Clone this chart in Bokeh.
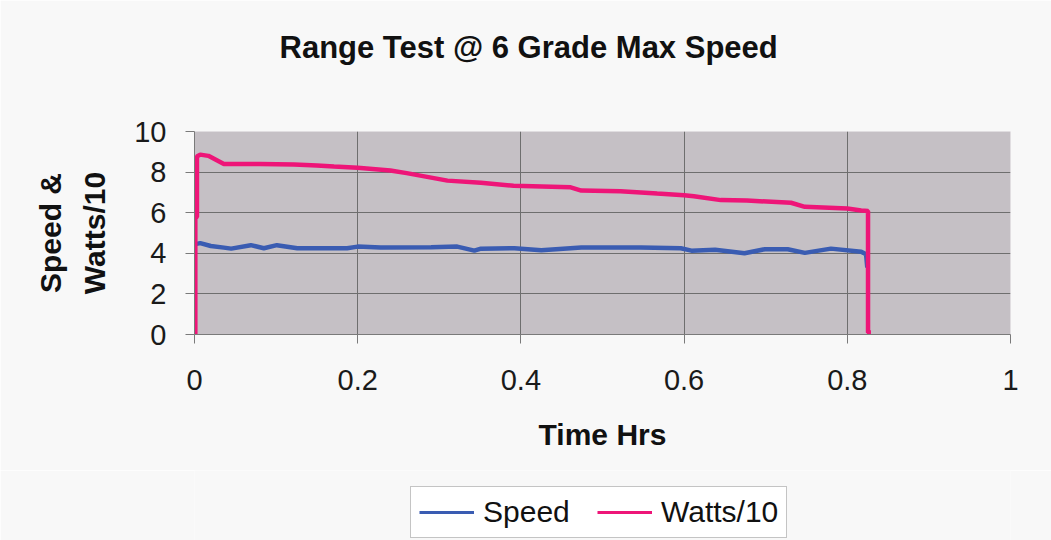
from bokeh.plotting import figure
from bokeh.models import FixedTicker, Legend, LegendItem, Title, Range1d
from bokeh.layouts import column
from bokeh.embed import file_html
from bokeh.resources import INLINE

# ---- data ----
watts_time = [0.001, 0.001, 0.003, 0.003, 0.007, 0.017, 0.036, 0.080, 0.122, 0.150,
              0.171, 0.200, 0.240, 0.260, 0.310, 0.351, 0.391, 0.461, 0.474, 0.522,
              0.567, 0.600, 0.612, 0.645, 0.677, 0.731, 0.748, 0.800, 0.817, 0.8254,
              0.8254, 0.829]
watts_val = [0.0, 5.75, 5.8, 8.77, 8.86, 8.80, 8.40, 8.40, 8.38, 8.33,
             8.28, 8.22, 8.08, 7.95, 7.58, 7.47, 7.33, 7.25, 7.09, 7.06,
             6.94, 6.86, 6.81, 6.62, 6.60, 6.49, 6.29, 6.21, 6.11, 6.08,
             0.1, 0.1]

speed_time = [0.001, 0.007, 0.020, 0.036, 0.045, 0.069, 0.085, 0.101, 0.126, 0.187,
              0.200, 0.228, 0.290, 0.322, 0.343, 0.351, 0.392, 0.425, 0.474, 0.547,
              0.596, 0.609, 0.638, 0.674, 0.699, 0.727, 0.748, 0.780, 0.817, 0.823,
              0.8245]
speed_val = [4.45, 4.50, 4.36, 4.28, 4.23, 4.40, 4.25, 4.40, 4.25, 4.25,
             4.33, 4.28, 4.30, 4.33, 4.13, 4.23, 4.25, 4.15, 4.28, 4.28,
             4.25, 4.13, 4.18, 4.00, 4.20, 4.20, 4.02, 4.23, 4.08, 3.95,
             3.30]

x_ticks = [0, 0.2, 0.4, 0.6, 0.8, 1]
x_tick_labels = ["0", "0.2", "0.4", "0.6", "0.8", "1"]
y_ticks = [0, 2, 4, 6, 8, 10]
y_tick_labels = ["0", "2", "4", "6", "8", "10"]

title_text = "Range Test @ 6 Grade Max Speed"
x_label = "Time Hrs"
y_label = "Speed &\nWatts/10"
series_names = ["Speed", "Watts/10"]

FONT = "Liberation Sans"
BLUE = "#3a5cb2"
PINK = "#ee1578"
BG = "#f8f8f8"

# ---------------- main chart ----------------
p = figure(width=1051, height=470, output_backend="svg", toolbar_location=None,
           x_range=(0, 1), y_range=(0, 10), title_location=None,
           min_border_left=194, min_border_right=41,
           min_border_top=131, min_border_bottom=136)

p.background_fill_color = "#c5c0c5"
p.border_fill_color = BG
p.outline_line_color = None

# title (a blank spacer title sits between the frame and the real title)
top_spacer = Title(text=" ", text_font_size="4px", standoff=60, text_color=BG)
p.add_layout(top_spacer, "above")
main_title = Title(text=title_text, text_font=FONT, text_font_size="31px",
                   text_font_style="bold", text_color="#111111",
                   align="left", offset=85, standoff=0)
p.add_layout(main_title, "above")

# axes
for ax in (p.xaxis[0], p.yaxis[0]):
    ax.axis_line_color = "#7a7a7a"
    ax.major_tick_line_color = "#7a7a7a"
    ax.major_tick_out = 9
    ax.major_tick_in = 0
    ax.minor_tick_line_color = None
    ax.major_label_text_font = FONT
    ax.major_label_text_font_size = "29px"
    ax.major_label_text_color = "#1a1a1a"
    ax.axis_label_text_font = FONT
    ax.axis_label_text_font_size = "30px"
    ax.axis_label_text_font_style = "bold"
    ax.axis_label_text_color = "#111111"

p.xaxis.ticker = FixedTicker(ticks=x_ticks)
p.xaxis.major_label_overrides = dict(zip(x_ticks, x_tick_labels))
p.xaxis.axis_label = x_label
p.xaxis.major_label_standoff = 26
p.xaxis.axis_label_standoff = 25

p.yaxis.ticker = FixedTicker(ticks=y_ticks)
p.yaxis.major_label_overrides = dict(zip(y_ticks, y_tick_labels))
p.yaxis.axis_label = y_label
p.yaxis.axis_label_text_line_height = 1.35
p.yaxis.major_label_standoff = 19
p.yaxis.axis_label_standoff = 20

# grid
p.xgrid.ticker = FixedTicker(ticks=x_ticks[1:-1])
p.ygrid.ticker = FixedTicker(ticks=y_ticks)
p.xgrid.grid_line_color = "#6e6e6e"
p.ygrid.grid_line_color = "#6e6e6e"

# series
p.line(speed_time, speed_val, line_color=BLUE, line_width=4.5)
p.line(watts_time, watts_val, line_color=PINK, line_width=4.5)

# ---------------- legend strip below the chart ----------------
# Same series, drawn into a strip whose range shows none of them: only their legend keys appear.
lg = figure(width=1051, height=70, output_backend="svg", toolbar_location=None,
            x_range=Range1d(0, 1), y_range=Range1d(100, 110),
            x_axis_location=None, y_axis_location=None,
            min_border_left=0, min_border_right=0, min_border_top=0, min_border_bottom=0)
lg.background_fill_color = BG
lg.border_fill_color = BG
lg.outline_line_color = None
lg.xgrid.visible = False
lg.ygrid.visible = False
key_speed = lg.line(speed_time, speed_val, line_color=BLUE, line_width=3)
key_watts = lg.line(watts_time, watts_val, line_color=PINK, line_width=3)

legend = Legend(items=[LegendItem(label=series_names[0], renderers=[key_speed]),
                       LegendItem(label=series_names[1], renderers=[key_watts])],
                orientation="horizontal", location=(216, 2))
legend.label_text_font = FONT
legend.label_text_font_size = "30px"
legend.label_text_color = "#111111"
legend.glyph_width = 55
legend.label_standoff = 9
legend.label_width = 92
legend.spacing = 22
legend.padding = 8
legend.margin = 0
legend.border_line_color = "#8a8a8a"
legend.border_line_width = 1
legend.background_fill_color = "#ffffff"
legend.background_fill_alpha = 1
lg.add_layout(legend, "center")

layout = column(p, lg, spacing=0)
open("out.html", "w").write(file_html(layout, INLINE))
